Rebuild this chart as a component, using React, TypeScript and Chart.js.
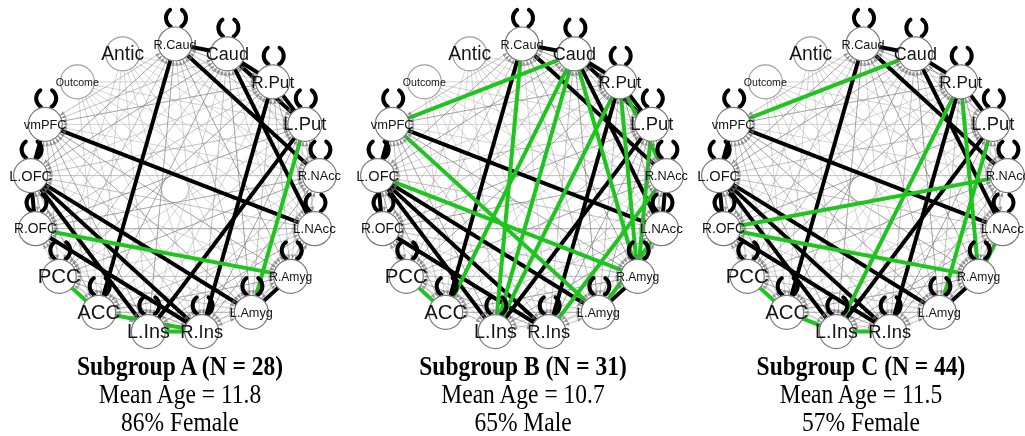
import React, { useEffect, useRef } from 'react';
import { Chart, registerables } from 'chart.js';
Chart.register(...registerables);

// ---------- DATA ----------
const NODE_LABELS = ['R.Caud', 'Caud', 'R.Put', 'L.Put', 'R.NAcc', 'L.NAcc', 'R.Amyg', 'L.Amyg', 'R.Ins', 'L.Ins', 'ACC', 'PCC', 'R.OFC', 'L.OFC', 'vmPFC', 'Outcome', 'Antic'];
const NODE_CODES = ['RC', 'C', 'RP', 'LP', 'RN', 'LN', 'RA', 'LA', 'RI', 'LI', 'ACC', 'PCC', 'RO', 'LO', 'VM', 'OUT', 'ANT'];
const LOOP_NODES = ['RC', 'C', 'RP', 'LP', 'RN', 'LN', 'RA', 'LA', 'RI', 'LI', 'ACC', 'PCC', 'RO', 'LO', 'VM'];

const GRAY_EDGES = [
  'RC-RP', 'RC-LP', 'RC-RN', 'RC-RA', 'RC-LA', 'RC-RI', 'RC-LI', 'RC-PCC', 'RC-RO', 'RC-LO', 'RC-VM', 'RC-LN',
  'C-LP', 'C-RN', 'C-RA', 'C-LA', 'C-RI', 'C-LI', 'C-ACC', 'C-PCC', 'C-RO', 'C-LO', 'C-VM',
  'RP-RN', 'RP-LN', 'RP-LA', 'RP-ACC', 'RP-PCC', 'RP-RO', 'RP-LO', 'RP-VM', 'RP-RA', 'RP-LI',
  'LP-RN', 'LP-LN', 'LP-RA', 'LP-RI', 'LP-ACC', 'LP-PCC', 'LP-RO', 'LP-LO', 'LP-VM', 'LP-LA',
  'RN-RA', 'RN-LA', 'RN-RI', 'RN-LI', 'RN-ACC', 'RN-PCC', 'RN-LO', 'RN-VM', 'RN-RO',
  'LN-LA', 'LN-RI', 'LN-LI', 'LN-ACC', 'LN-PCC', 'LN-RO', 'LN-LO', 'LN-VM', 'LN-RA',
  'RA-RI', 'RA-LI', 'RA-ACC', 'RA-PCC', 'RA-LO', 'RA-VM', 'RA-RO',
  'LA-LI', 'LA-ACC', 'LA-PCC', 'LA-RO', 'LA-VM', 'LA-RI', 'LA-LO',
  'RI-PCC', 'RI-VM', 'RI-ACC', 'RI-LO', 'LI-PCC', 'LI-RO', 'LI-VM', 'LI-LO',
  'ACC-RO', 'ACC-LO', 'ACC-VM', 'PCC-RO', 'PCC-LO', 'PCC-VM', 'RO-VM',
  'ANT-RP', 'ANT-LN', 'ANT-RA', 'ANT-LA', 'ANT-RI', 'ANT-LI', 'ANT-RN', 'ANT-LP', 'ANT-ACC', 'ANT-PCC',
  'OUT-LP', 'OUT-RN', 'OUT-LN', 'OUT-RA', 'OUT-LA', 'OUT-RI', 'OUT-LI', 'OUT-ACC', 'OUT-RP',
];

const BLACK_A = ['RC-C', 'C-RP', 'RP-LP', 'C-LP', 'RC-ACC', 'RC-RN', 'C-LN', 'RP-RI', 'LP-LI', 'VM-LN', 'VM-LO', 'LO-RO', 'LO-LA', 'LO-RI', 'LO-LI', 'RO-RI', 'LA-RA'];
const GREEN_A = ['RO-RA', 'LA-LP', 'PCC-ACC', 'ACC-RI', 'LI-RI'];

const BLACK_B = ['RC-C', 'C-RP', 'RP-LP', 'C-LP', 'RC-ACC', 'RC-RN', 'C-LN', 'RP-RI', 'LP-LI', 'VM-LN', 'VM-LO', 'LO-RO', 'LO-RI', 'LO-LI', 'RO-RI', 'LO-LA', 'LA-RA', 'RN-LN'];
const GREEN_B = ['C-VM', 'VM-LA', 'LO-RA', 'RC-LI', 'C-LI', 'C-ACC', 'RP-LI', 'RP-RA', 'RP-RN', 'C-RA', 'LP-RA', 'RN-RI', 'LN-LA', 'PCC-ACC'];

const BLACK_C = ['RC-C', 'C-RP', 'RP-LP', 'RC-ACC', 'RC-RN', 'C-LN', 'RP-RI', 'LP-LI', 'VM-LN', 'VM-LO', 'LO-RO', 'LO-RI', 'LO-LI', 'LO-LA', 'RO-RI', 'LA-RA'];
const GREEN_C = ['C-VM', 'RP-LI', 'RP-RA', 'LP-LA', 'RN-RO', 'RO-RA', 'LN-RA', 'PCC-ACC', 'ACC-LI', 'LI-RI'];

const BLACK_EDGES = [BLACK_A, BLACK_B, BLACK_C];
const GREEN_EDGES = [GREEN_A, GREEN_B, GREEN_C];

const TITLES = ['Subgroup A (N = 28)', 'Subgroup B (N = 31)', 'Subgroup C (N = 44)'];
const AGES = ['Mean Age = 11.8', 'Mean Age = 10.7', 'Mean Age = 11.5'];
const SEXES = ['86% Female', '65% Male', '57% Female'];

// ---------- LAYOUT / STYLE ----------
const W = 1025;
const H = 436;
const PANEL_CX = [175, 522, 863];
const CY = 189;
const RING_R = 145;
const NODE_R = 17;
const TEXT_CX = [180, 523, 861];
const GREEN = '#1fc41f';
const LABEL_W = 43;
const SOURCE_ONLY = ['ANT', 'OUT'];

function nodePos(panel: number, code: string) {
  const i = NODE_CODES.indexOf(code);
  const a = ((90 - (i * 360) / NODE_CODES.length) * Math.PI) / 180;
  return { x: PANEL_CX[panel] + RING_R * Math.cos(a), y: CY - RING_R * Math.sin(a) };
}

function edgeData(panel: number, e: string) {
  const [a, b] = e.split('-');
  return [nodePos(panel, a), nodePos(panel, b)];
}

const loopPlugin = {
  id: 'loops',
  beforeDatasetDraw(chart: any, args: any) {
    const ds = chart.data.datasets[args.index];
    if (ds.label !== 'nodes') return;
    const ctx = chart.ctx;
    const xs = chart.scales.x;
    const ys = chart.scales.y;
    ctx.save();
    // gray arrowheads of weak edges
    ctx.fillStyle = 'rgba(120,120,120,0.7)';
    for (let p = 0; p < 3; p++) {
      GRAY_EDGES.forEach((e) => {
        const [ca, cb] = e.split('-');
        const [a, b] = edgeData(p, e);
        const ends: any[] = [];
        if (!SOURCE_ONLY.includes(ca)) ends.push([a, b]);
        if (!SOURCE_ONLY.includes(cb)) ends.push([b, a]);
        ends.forEach(([s, t]) => {
          const sx = xs.getPixelForValue(s.x), sy = ys.getPixelForValue(s.y);
          const tx = xs.getPixelForValue(t.x), ty = ys.getPixelForValue(t.y);
          const d = Math.hypot(tx - sx, ty - sy);
          const ux = (tx - sx) / d, uy = (ty - sy) / d;
          const tipX = sx + ux * (NODE_R + 0.5), tipY = sy + uy * (NODE_R + 0.5);
          const bx = tipX + ux * 4.5, by = tipY + uy * 4.5;
          ctx.beginPath();
          ctx.moveTo(tipX, tipY);
          ctx.lineTo(bx - uy * 2, by + ux * 2);
          ctx.lineTo(bx + uy * 2, by - ux * 2);
          ctx.closePath();
          ctx.fill();
        });
      });
    }
    // self loops
    ctx.strokeStyle = '#000';
    ctx.lineWidth = 4;
    ctx.lineCap = 'round';
    for (let p = 0; p < 3; p++) {
      LOOP_NODES.forEach((code) => {
        const n = nodePos(p, code);
        const px = xs.getPixelForValue(n.x);
        const py = ys.getPixelForValue(n.y);
        const cx = px + 1;
        const cy = py - NODE_R - 9;
        ctx.beginPath();
        ctx.arc(cx, cy, 10, Math.PI * 0.68, Math.PI * 1.3);
        ctx.stroke();
        ctx.beginPath();
        ctx.arc(cx, cy, 10, -Math.PI * 0.3, Math.PI * 0.32);
        ctx.stroke();
      });
    }
    ctx.restore();
  },
};

const labelPlugin = {
  id: 'nodeLabels',
  afterDatasetsDraw(chart: any) {
    const ctx = chart.ctx;
    const xs = chart.scales.x;
    const ys = chart.scales.y;
    ctx.save();
    ctx.textAlign = 'center';
    ctx.textBaseline = 'middle';
    ctx.fillStyle = '#151515';
    for (let p = 0; p < 3; p++) {
      NODE_CODES.forEach((code, i) => {
        const n = nodePos(p, code);
        const label = NODE_LABELS[i];
        ctx.font = '20px "Liberation Sans", Arial, sans-serif';
        const w = ctx.measureText(label).width;
        const size = Math.min(21, (20 * LABEL_W) / w);
        ctx.font = `${size.toFixed(1)}px "Liberation Sans", Arial, sans-serif`;
        ctx.fillText(label, xs.getPixelForValue(n.x), ys.getPixelForValue(n.y) + 1);
      });
    }
    ctx.restore();
  },
};

export default function App() {
  const ref = useRef<HTMLCanvasElement>(null);
  useEffect(() => {
    document.body.style.margin = '0';
    const canvas = ref.current!;
    const datasets: any[] = [];
    const nodeData: any[] = [];
    const nodeBorder: string[] = [];
    for (let p = 0; p < 3; p++) {
      NODE_CODES.forEach((code) => {
        nodeData.push(nodePos(p, code));
        nodeBorder.push(SOURCE_ONLY.includes(code) ? '#a0a0a0' : '#7a7a7a');
      });
    }
    datasets.push({
      label: 'nodes',
      data: nodeData,
      pointRadius: NODE_R,
      pointBackgroundColor: '#ffffff',
      pointBorderColor: nodeBorder,
      pointBorderWidth: 1.2,
      showLine: false,
      order: 0,
    });
    for (let p = 0; p < 3; p++) {
      GREEN_EDGES[p].forEach((e) => {
        datasets.push({ label: 'g', data: edgeData(p, e), showLine: true, pointRadius: 0, borderColor: GREEN, borderWidth: 4, order: 1 });
      });
      BLACK_EDGES[p].forEach((e) => {
        datasets.push({ label: 'b', data: edgeData(p, e), showLine: true, pointRadius: 0, borderColor: '#000000', borderWidth: 4, order: 2 });
      });
      GRAY_EDGES.forEach((e, k) => {
        const light = e.startsWith('ANT') || e.startsWith('OUT');
        const col = light ? 'rgba(150,150,150,0.4)' : k % 3 === 0 ? 'rgba(80,80,80,0.5)' : k % 3 === 1 ? 'rgba(120,120,120,0.45)' : 'rgba(160,160,160,0.45)';
        datasets.push({ label: 'w', data: edgeData(p, e), showLine: true, pointRadius: 0, borderColor: col, borderWidth: 1, order: 3 });
      });
    }
    const chart = new Chart(canvas, {
      type: 'scatter',
      data: { datasets },
      options: {
        animation: false,
        responsive: false,
        devicePixelRatio: 1,
        layout: { padding: 0, autoPadding: false } as any,
        scales: {
          x: { type: 'linear', min: 0, max: W, display: false },
          y: { type: 'linear', min: 0, max: H, reverse: true, display: false },
        },
        plugins: { legend: { display: false }, tooltip: { enabled: false } },
        events: [],
      },
      plugins: [loopPlugin, labelPlugin],
    });
    return () => chart.destroy();
  }, []);

  return (
    <div style={{ position: 'absolute', left: 0, top: 0, width: W, height: H, background: '#fff', overflow: 'hidden' }}>
      <canvas ref={ref} width={W} height={H} style={{ position: 'absolute', left: 0, top: 0 }} />
      {TITLES.map((t, i) => (
        <div
          key={t}
          style={{
            position: 'absolute',
            left: TEXT_CX[i] - 160,
            width: 320,
            top: 352,
            textAlign: 'center',
            fontFamily: '"Liberation Serif", "Times New Roman", serif',
            fontSize: 27,
            lineHeight: '28px',
            color: '#000',
            transform: 'scaleX(0.87)',
          }}
        >
          <div style={{ fontWeight: 'bold' }}>{t}</div>
          <div>{AGES[i]}</div>
          <div>{SEXES[i]}</div>
        </div>
      ))}
    </div>
  );
}
